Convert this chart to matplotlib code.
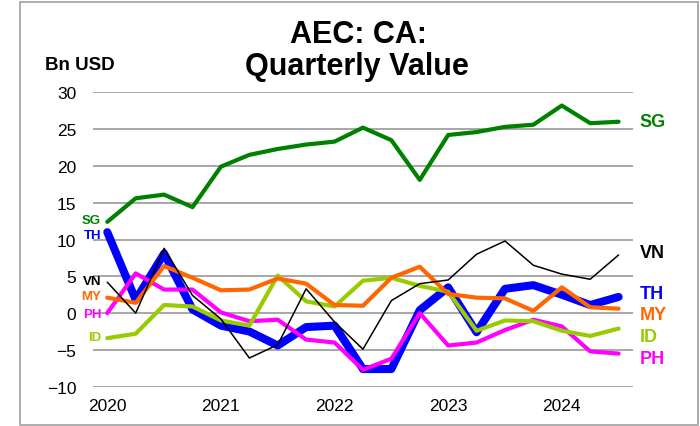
import numpy as np
import matplotlib
matplotlib.use("Agg")
import matplotlib.pyplot as plt
from matplotlib.patches import Rectangle

plt.rcParams['font.family'] = ['Liberation Sans', 'DejaVu Sans']

# quarterly values, 2020Q1 .. 2024Q3 (Bn USD)
quarters = list(range(19))
year_ticks = [0, 4, 8, 12, 16]
year_labels = ['2020', '2021', '2022', '2023', '2024']

sg = [12.4, 15.6, 16.1, 14.4, 19.9, 21.5, 22.3, 22.9, 23.3, 25.2, 23.5, 18.1,
      24.2, 24.6, 25.3, 25.6, 28.2, 25.8, 26.0]
th = [11.0, 1.8, 8.1, 0.5, -1.7, -2.5, -4.4, -1.9, -1.7, -7.6, -7.6, 0.4,
      3.5, -2.6, 3.3, 3.8, 2.5, 1.1, 2.2]
vn = [4.2, 0.0, 8.8, 2.4, -0.8, -6.1, -4.3, 3.3, -1.2, -4.9, 1.7, 4.0,
      4.5, 8.0, 9.8, 6.5, 5.3, 4.6, 7.9]
my = [2.1, 1.4, 6.4, 4.8, 3.1, 3.2, 4.7, 4.0, 1.1, 1.0, 4.8, 6.3,
      2.6, 2.1, 2.0, 0.3, 3.5, 0.8, 0.6]
idn = [-3.4, -2.8, 1.1, 0.9, -1.0, -1.7, 5.1, 1.6, 0.9, 4.4, 4.8, 3.7,
       2.9, -2.4, -1.0, -1.1, -2.4, -3.1, -2.1]
ph = [0.0, 5.4, 3.2, 3.2, 0.1, -1.1, -0.9, -3.6, -4.0, -7.7, -6.2, 0.0,
      -4.4, -4.0, -2.3, -0.9, -1.8, -5.2, -5.5]

# name, data, colour, width, left label y, right label y
series = [
    ('TH', th, '#0000ff', 5.8, 10.6, 2.6),
    ('PH', ph, '#ff00ff', 3.0, -0.1, -6.2),
    ('ID', idn, '#99cc00', 3.0, -3.2, -3.2),
    ('MY', my, '#ff6600', 3.0, 2.3, -0.2),
    ('SG', sg, '#008000', 3.0, 12.6, 26.0),
    ('VN', vn, '#000000', 1.1, 4.4, 8.2),
]

fig = plt.figure(figsize=(7, 4.27), dpi=100)
fig.patches.append(Rectangle((20 / 700, 1 / 427), 678 / 700, 423 / 427,
                             transform=fig.transFigure, fill=False,
                             edgecolor='#a0a0a0', linewidth=1.2))

ax = fig.add_axes([0.133, 0.092, 0.771, 0.6895])
ax.set_xlim(-0.5, 18.5)
ax.set_ylim(-10, 30)
ax.set_yticks(range(-10, 31, 5))
ax.set_xticks(year_ticks)
ax.set_xticklabels(year_labels)
ax.tick_params(length=0, labelsize=12.5, pad=8)
ax.tick_params(axis='y', pad=12)
for s in ax.spines.values():
    s.set_visible(False)
ax.yaxis.grid(True, color='#a0a0a0', linewidth=1.3)
ax.set_axisbelow(True)

for name, vals, col, lw, yleft, yright in series:
    ax.plot(quarters, vals, color=col, linewidth=lw, solid_capstyle='round')
    # small label at the start of the line
    ax.text(-0.22, yleft, name, color=col, fontsize=9.5, fontweight='bold',
            ha='right', va='center')
    # big label at the end
    ax.text(18.75, yright, name, color=col, fontsize=13, fontweight='bold',
            ha='left', va='center', clip_on=False)

fig.text(358 / 700, 1 - 43 / 427, 'AEC: CA:', ha='center', va='baseline',
         fontsize=22, fontweight='bold')
fig.text(357 / 700, 1 - 75 / 427, 'Quarterly Value', ha='center',
         va='baseline', fontsize=22, fontweight='bold')
fig.text(45 / 700, 1 - 70 / 427, 'Bn USD', ha='left', va='baseline',
         fontsize=13.5, fontweight='bold')

fig.savefig('out.png', dpi=100)
